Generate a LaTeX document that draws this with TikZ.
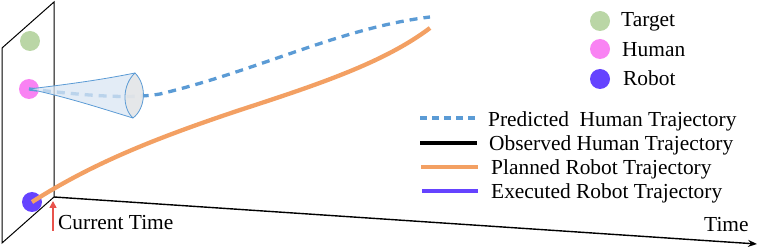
\documentclass[tikz,border=0pt]{standalone}
\usepackage{fontspec}
\setmainfont{Liberation Serif}
\usetikzlibrary{arrows.meta}
\definecolor{cgreen}{HTML}{BAD6A6}
\definecolor{cpink}{HTML}{F983F3}
\definecolor{cpurple}{HTML}{6543FF}
\definecolor{cblue}{HTML}{5B9BD5}
\definecolor{cbluefill}{HTML}{DAE6F3}
\definecolor{cgrayfill}{HTML}{E6E6E6}
\definecolor{corange}{HTML}{F3A063}
\definecolor{cred}{HTML}{E8534C}
\tikzset{
  dot/.style={circle,minimum size=20pt,inner sep=0pt,draw=none},
  lbl/.style={anchor=base west,inner sep=0pt,font=\fontsize{21.4}{25}\selectfont},
  predline/.style={cblue,line width=3.3pt,dash pattern=on 8pt off 6pt},
  robotline/.style={corange,line width=4.3pt},
  legline/.style={line width=3.3pt},
}
\begin{document}
\begin{tikzpicture}[x=1pt,y=-1pt]
\useasboundingbox (0,0) rectangle (758,248);
% plane
\coordinate (p1) at (2,48);
\coordinate (p2) at (54,2);
\coordinate (p3) at (54,197);
\coordinate (p4) at (2,243);
\draw[black,line width=1pt,line join=miter] (p1) -- (p2) -- (p3) -- (p4) -- cycle;
% time axis
\coordinate (tend) at (757,244);
\draw[black,line width=1.4pt,-{Stealth[length=9pt,width=7pt]}] (p3) -- (tend);
\node[lbl] (time) at (704,232) {Time};
% dots on plane
\node[dot,fill=cgreen] (target) at (30,41) {};
\node[dot,fill=cpink] (human) at (29,89) {};
\node[dot,fill=cpurple] (robot) at (32,202) {};
% predicted human trajectory
\coordinate (hend) at (430,17);
\draw[predline] (human.center) .. controls (90,96) and (130,99) .. (160,94)
   .. controls (260,70) and (340,28) .. (hend);
% cone
\fill[cbluefill,fill opacity=0.75] (human.center) .. controls (70,84) and (100,80) .. (135,73)
   .. controls (147,85) and (146,108) .. (133,118)
   .. controls (100,108) and (70,98) .. (human.center) -- cycle;
\fill[cgrayfill,fill opacity=0.8] (135,73) .. controls (147,85) and (146,108) .. (133,118)
   .. controls (122,108) and (122,85) .. (135,73) -- cycle;
\draw[cblue,line width=0.8pt] (human.center) .. controls (70,84) and (100,80) .. (135,73)
   .. controls (147,85) and (146,108) .. (133,118)
   .. controls (100,108) and (70,98) .. (human.center);
\draw[cblue,line width=0.8pt] (133,118) .. controls (122,108) and (122,85) .. (135,73);
% planned robot trajectory
\coordinate (rend) at (430,28);
\draw[robotline] (robot.center) .. controls (90,165) and (150,140) .. (240,110)
   .. controls (320,84) and (385,62) .. (rend);
% current time
\coordinate (cta) at (53,231);
\coordinate (ctb) at (53,201);
\draw[cred,line width=1.6pt,-{Triangle[length=7pt,width=7pt]}] (cta) -- (ctb);
\node[lbl] (ct) at (58,230) {Current Time};
% legend dots
\node[dot,fill=cgreen] (lt) at (600,21) {};
\node[dot,fill=cpink] (lh) at (600,49) {};
\node[dot,fill=cpurple] (lr) at (600,79) {};
\node[lbl] at (621,27) {Target};
\node[lbl] at (622,57) {Human};
\node[lbl] at (623,86) {Robot};
% legend lines
\coordinate (a1) at (420,118); \coordinate (b1) at (476,118);
\coordinate (a2) at (420,143); \coordinate (b2) at (477,143);
\coordinate (a3) at (421,167); \coordinate (b3) at (478,167);
\coordinate (a4) at (422,191); \coordinate (b4) at (478,191);
\draw[cblue,legline,dash pattern=on 7pt off 5pt] (a1) -- (b1);
\draw[black,legline] (a2) -- (b2);
\draw[corange,legline] (a3) -- (b3);
\draw[cpurple,legline] (a4) -- (b4);
\node[lbl] (l1) at (488,127) {Predicted\ \ Human Trajectory};
\node[lbl] (l2) at (489,151) {Observed Human Trajectory};
\node[lbl] (l3) at (491,175) {Planned Robot Trajectory};
\node[lbl] (l4) at (491,199) {Executed Robot Trajectory};
\end{tikzpicture}
\end{document}
